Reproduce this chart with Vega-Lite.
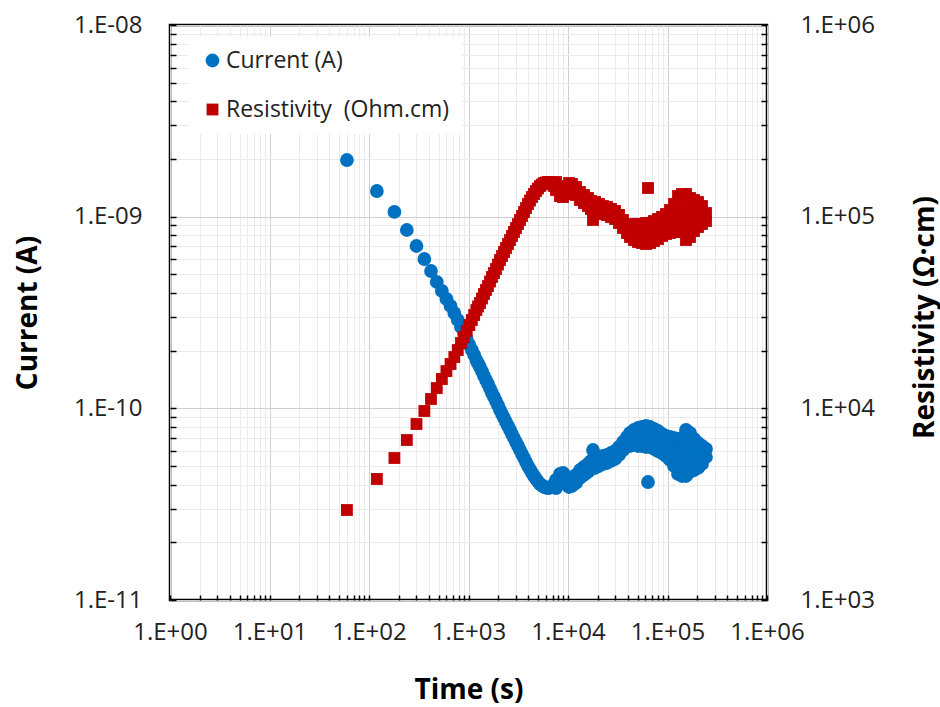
{
  "$schema": "https://vega.github.io/schema/vega-lite/v6.json",
  "width": 597,
  "height": 575,
  "autosize": {"type": "none"},
  "padding": {"left": 170, "top": 25, "right": 173, "bottom": 107},
  "background": "white",
  "config": {
    "font": "Open Sans",
    "view": {"stroke": "#000000", "strokeWidth": 2.5},
    "axis": {
      "domain": false,
      "labelOverlap": false,
      "labelBound": false,
      "labelFlush": false,
      "tickColor": "#000000",
      "tickWidth": 1.5,
      "labelFont": "Open Sans",
      "labelFontSize": 24,
      "labelColor": "#222222",
      "titleFont": "Open Sans",
      "titleFontWeight": "bold",
      "titleFontSize": 28,
      "titleColor": "#000000",
      "gridWidth": 1
    },
    "legend": {
      "orient": "none",
      "legendX": 19,
      "legendY": 12,
      "fillColor": "white",
      "padding": 12,
      "labelFont": "Open Sans",
      "labelFontSize": 23,
      "labelColor": "#222222",
      "labelOffset": 2,
      "labelLimit": 400,
      "rowPadding": 25,
      "symbolStrokeWidth": 0,
      "symbolOpacity": 1
    }
  },
  "data": {
    "values": [
      {"t": 60, "I": 1.975e-9, "R": 2948},
      {"t": 120, "I": 1.361e-9, "R": 4279},
      {"t": 180, "I": 1.058e-9, "R": 5506},
      {"t": 240, "I": 8.52e-10, "R": 6834},
      {"t": 300, "I": 7.03e-10, "R": 8284},
      {"t": 360, "I": 6.013e-10, "R": 9685},
      {"t": 420, "I": 5.206e-10, "R": 11190},
      {"t": 480, "I": 4.562e-10, "R": 12760},
      {"t": 540, "I": 4.095e-10, "R": 14220},
      {"t": 600, "I": 3.72e-10, "R": 15650},
      {"t": 660, "I": 3.42e-10, "R": 17030},
      {"t": 720, "I": 3.143e-10, "R": 18530},
      {"t": 780, "I": 2.89e-10, "R": 20150},
      {"t": 840, "I": 2.657e-10, "R": 21920},
      {"t": 900, "I": 2.472e-10, "R": 23560},
      {"t": 960, "I": 2.3e-10, "R": 25320},
      {"t": 1020, "I": 2.141e-10, "R": 27200},
      {"t": 1080, "I": 2.016e-10, "R": 28880},
      {"t": 1140, "I": 1.898e-10, "R": 30680},
      {"t": 1200, "I": 1.787e-10, "R": 32580},
      {"t": 1246, "I": 1.714e-10, "R": 33980},
      {"t": 1305, "I": 1.643e-10, "R": 35440},
      {"t": 1367, "I": 1.557e-10, "R": 37410},
      {"t": 1431, "I": 1.475e-10, "R": 39490},
      {"t": 1499, "I": 1.405e-10, "R": 41450},
      {"t": 1570, "I": 1.34e-10, "R": 43470},
      {"t": 1645, "I": 1.269e-10, "R": 45890},
      {"t": 1722, "I": 1.202e-10, "R": 48450},
      {"t": 1804, "I": 1.146e-10, "R": 50820},
      {"t": 1890, "I": 1.092e-10, "R": 53330},
      {"t": 1979, "I": 1.035e-10, "R": 56270},
      {"t": 2073, "I": 9.802e-11, "R": 59410},
      {"t": 2172, "I": 9.341e-11, "R": 62350},
      {"t": 2274, "I": 8.907e-11, "R": 65400},
      {"t": 2382, "I": 8.484e-11, "R": 68650},
      {"t": 2495, "I": 8.09e-11, "R": 72000},
      {"t": 2613, "I": 7.709e-11, "R": 75550},
      {"t": 2737, "I": 7.346e-11, "R": 79290},
      {"t": 2866, "I": 7.002e-11, "R": 83180},
      {"t": 3002, "I": 6.673e-11, "R": 87270},
      {"t": 3144, "I": 6.361e-11, "R": 91560},
      {"t": 3293, "I": 6.061e-11, "R": 96080},
      {"t": 3449, "I": 5.777e-11, "R": 100810},
      {"t": 3613, "I": 5.507e-11, "R": 105700},
      {"t": 3784, "I": 5.248e-11, "R": 110980},
      {"t": 3963, "I": 5.003e-11, "R": 116400},
      {"t": 4150, "I": 4.796e-11, "R": 121430},
      {"t": 4347, "I": 4.599e-11, "R": 126600},
      {"t": 4553, "I": 4.436e-11, "R": 131290},
      {"t": 4769, "I": 4.279e-11, "R": 136100},
      {"t": 4994, "I": 4.152e-11, "R": 140270},
      {"t": 5231, "I": 4.029e-11, "R": 144500},
      {"t": 5479, "I": 3.957e-11, "R": 147180},
      {"t": 5739, "I": 3.887e-11, "R": 149830},
      {"t": 6010, "I": 3.863e-11, "R": 150760},
      {"t": 6295, "I": 3.84e-11, "R": 151670},
      {"t": 6593, "I": 3.863e-11, "R": 150760},
      {"t": 6906, "I": 3.887e-11, "R": 149830},
      {"t": 7232, "I": 4.029e-11, "R": 144550},
      {"t": 7576, "I": 4.228e-11, "R": 137750},
      {"t": 7576, "I": 3.84e-11, "R": 151670},
      {"t": 8310, "I": 4.544e-11, "R": 128170},
      {"t": 8310, "I": 4.127e-11, "R": 141120},
      {"t": 8907, "I": 4.599e-11, "R": 126640},
      {"t": 8907, "I": 4.177e-11, "R": 139430},
      {"t": 9548, "I": 4.436e-11, "R": 131290},
      {"t": 9548, "I": 4.029e-11, "R": 144550},
      {"t": 10234, "I": 4.228e-11, "R": 137750},
      {"t": 10234, "I": 3.887e-11, "R": 149830},
      {"t": 10970, "I": 4.279e-11, "R": 136110},
      {"t": 10970, "I": 3.934e-11, "R": 148040},
      {"t": 12035, "I": 4.49e-11, "R": 129710},
      {"t": 12035, "I": 4.078e-11, "R": 142820},
      {"t": 13200, "I": 4.767e-11, "R": 122170},
      {"t": 13200, "I": 4.331e-11, "R": 134470},
      {"t": 14480, "I": 4.943e-11, "R": 117820},
      {"t": 14480, "I": 4.49e-11, "R": 129710},
      {"t": 15885, "I": 5.124e-11, "R": 113660},
      {"t": 15885, "I": 4.654e-11, "R": 125140},
      {"t": 17030, "I": 5.312e-11, "R": 109640},
      {"t": 17030, "I": 4.825e-11, "R": 120700},
      {"t": 17836, "I": 6.061e-11, "R": 96090},
      {"t": 18680, "I": 5.376e-11, "R": 108330},
      {"t": 18680, "I": 4.884e-11, "R": 119250},
      {"t": 20495, "I": 5.507e-11, "R": 105760},
      {"t": 20495, "I": 5.002e-11, "R": 116430},
      {"t": 22480, "I": 5.64e-11, "R": 103260},
      {"t": 22480, "I": 5.124e-11, "R": 113660},
      {"t": 24660, "I": 5.709e-11, "R": 102010},
      {"t": 24660, "I": 5.186e-11, "R": 112300},
      {"t": 27050, "I": 5.847e-11, "R": 99610},
      {"t": 27050, "I": 5.312e-11, "R": 109640},
      {"t": 29680, "I": 5.989e-11, "R": 97250},
      {"t": 29680, "I": 5.441e-11, "R": 107040},
      {"t": 32560, "I": 6.285e-11, "R": 92670},
      {"t": 32560, "I": 5.709e-11, "R": 102010},
      {"t": 35720, "I": 6.674e-11, "R": 87260},
      {"t": 35720, "I": 6.061e-11, "R": 96090},
      {"t": 39180, "I": 7.087e-11, "R": 82180},
      {"t": 39180, "I": 6.439e-11, "R": 90450},
      {"t": 42000, "I": 7.436e-11, "R": 78320},
      {"t": 42000, "I": 6.836e-11, "R": 85200},
      {"t": 42000, "I": 6.361e-11, "R": 91560},
      {"t": 46060, "I": 7.709e-11, "R": 75550},
      {"t": 46060, "I": 7.087e-11, "R": 82180},
      {"t": 46060, "I": 6.439e-11, "R": 90450},
      {"t": 50530, "I": 7.896e-11, "R": 73760},
      {"t": 50530, "I": 7.087e-11, "R": 82180},
      {"t": 50530, "I": 6.361e-11, "R": 91560},
      {"t": 55430, "I": 7.992e-11, "R": 72870},
      {"t": 55430, "I": 7.172e-11, "R": 81200},
      {"t": 55430, "I": 6.361e-11, "R": 91560},
      {"t": 60810, "I": 8.088e-11, "R": 72010},
      {"t": 60810, "I": 7.172e-11, "R": 81200},
      {"t": 60810, "I": 6.285e-11, "R": 92670},
      {"t": 63680, "I": 4.127e-11, "R": 141120},
      {"t": 66700, "I": 7.992e-11, "R": 72870},
      {"t": 66700, "I": 7.087e-11, "R": 82180},
      {"t": 66700, "I": 6.285e-11, "R": 92670},
      {"t": 73170, "I": 7.802e-11, "R": 74650},
      {"t": 73170, "I": 6.919e-11, "R": 84170},
      {"t": 73170, "I": 6.136e-11, "R": 94920},
      {"t": 80270, "I": 7.617e-11, "R": 76460},
      {"t": 80270, "I": 6.754e-11, "R": 86230},
      {"t": 80270, "I": 5.989e-11, "R": 97250},
      {"t": 88050, "I": 7.347e-11, "R": 79270},
      {"t": 88050, "I": 6.594e-11, "R": 88320},
      {"t": 88050, "I": 5.847e-11, "R": 99610},
      {"t": 96580, "I": 7.172e-11, "R": 81200},
      {"t": 96580, "I": 6.361e-11, "R": 91560},
      {"t": 96580, "I": 5.64e-11, "R": 103260},
      {"t": 105950, "I": 7.087e-11, "R": 82180},
      {"t": 105950, "I": 6.21e-11, "R": 93780},
      {"t": 105950, "I": 5.376e-11, "R": 108330},
      {"t": 116230, "I": 7.002e-11, "R": 83180},
      {"t": 116230, "I": 5.917e-11, "R": 98430},
      {"t": 116230, "I": 5.002e-11, "R": 116430},
      {"t": 127500, "I": 6.919e-11, "R": 84170},
      {"t": 127500, "I": 6.061e-11, "R": 96090},
      {"t": 127500, "I": 5.312e-11, "R": 109640},
      {"t": 127500, "I": 4.544e-11, "R": 128170},
      {"t": 139870, "I": 7.002e-11, "R": 83180},
      {"t": 139870, "I": 6.136e-11, "R": 94920},
      {"t": 139870, "I": 5.376e-11, "R": 108330},
      {"t": 139870, "I": 4.436e-11, "R": 131290},
      {"t": 153440, "I": 7.709e-11, "R": 75550},
      {"t": 153440, "I": 6.674e-11, "R": 87260},
      {"t": 153440, "I": 5.709e-11, "R": 102010},
      {"t": 153440, "I": 4.943e-11, "R": 117820},
      {"t": 153440, "I": 4.436e-11, "R": 131290},
      {"t": 168320, "I": 7.436e-11, "R": 78320},
      {"t": 168320, "I": 6.439e-11, "R": 90450},
      {"t": 168320, "I": 5.507e-11, "R": 105760},
      {"t": 168320, "I": 4.654e-11, "R": 125140},
      {"t": 184650, "I": 6.919e-11, "R": 84170},
      {"t": 184650, "I": 5.917e-11, "R": 98430},
      {"t": 184650, "I": 5.312e-11, "R": 109640},
      {"t": 184650, "I": 4.767e-11, "R": 122170},
      {"t": 202560, "I": 6.594e-11, "R": 88320},
      {"t": 202560, "I": 5.709e-11, "R": 102010},
      {"t": 202560, "I": 4.884e-11, "R": 119250},
      {"t": 222220, "I": 6.361e-11, "R": 91560},
      {"t": 222220, "I": 5.709e-11, "R": 102010},
      {"t": 222220, "I": 5.124e-11, "R": 113660},
      {"t": 243760, "I": 6.136e-11, "R": 94920},
      {"t": 243760, "I": 5.573e-11, "R": 104500}
    ]
  },
  "encoding": {
    "x": {
      "field": "t",
      "type": "quantitative",
      "scale": {"type": "log", "domain": [1, 1000000], "nice": false},
      "axis": {
        "title": "Time (s)",
        "values": [1,2,3,4,5,6,7,8,9,10,20,30,40,50,60,70,80,90,100,200,300,400,500,600,700,800,900,1000,2000,3000,4000,5000,6000,7000,8000,9000,10000,20000,30000,40000,50000,60000,70000,80000,90000,100000,200000,300000,400000,500000,600000,700000,800000,900000,1000000],
        "labelExpr": "abs(log(datum.value)/LN10 - round(log(datum.value)/LN10)) < 0.001 ? '1.E' + (round(log(datum.value)/LN10) < 0 ? '-' : '+') + (abs(round(log(datum.value)/LN10)) < 10 ? '0' : '') + abs(round(log(datum.value)/LN10)) : ''",
        "tickSize": -5,
        "labelPadding": 25,
        "grid": true,
        "gridColor": {"condition": {"test": "abs(log(datum.value)/LN10 - round(log(datum.value)/LN10)) < 0.001", "value": "#d0d0d0"}, "value": "#ebebeb"},
        "titleX": 298.5,
        "titleY": 90,
        "titleAlign": "center",
        "titleBaseline": "middle"
      }
    }
  },
  "layer": [
    {
      "mark": {"type": "point", "filled": true, "opacity": 1, "strokeWidth": 0},
      "encoding": {
        "y": {
          "field": "I",
          "type": "quantitative",
          "scale": {"type": "log", "domain": [1e-11, 1e-8], "nice": false},
          "axis": {
            "orient": "left",
            "title": "Current (A)",
            "values": [1e-11,2e-11,3e-11,4e-11,5e-11,6e-11,7e-11,8e-11,9e-11,1e-10,2e-10,3e-10,4e-10,5e-10,6e-10,7e-10,8e-10,9e-10,1e-9,2e-9,3e-9,4e-9,5e-9,6e-9,7e-9,8e-9,9e-9,1e-8],
            "labelExpr": "abs(log(datum.value)/LN10 - round(log(datum.value)/LN10)) < 0.001 ? '1.E' + (round(log(datum.value)/LN10) < 0 ? '-' : '+') + (abs(round(log(datum.value)/LN10)) < 10 ? '0' : '') + abs(round(log(datum.value)/LN10)) : ''",
            "tickSize": -6,
            "labelPadding": 34,
            "grid": true,
            "gridColor": {"condition": {"test": "abs(log(datum.value)/LN10 - round(log(datum.value)/LN10)) < 0.001", "value": "#d0d0d0"}, "value": "#ebebeb"},
            "titleAngle": -90,
            "titleX": -142,
            "titleY": 287.5,
            "titleAlign": "center",
            "titleBaseline": "middle"
          }
        },
        "color": {"datum": "Current (A)", "type": "nominal", "scale": {"domain": ["Current (A)", "Resistivity \u00a0(Ohm.cm)"], "range": ["#0070C0", "#C00000"]}, "legend": {"title": null}},
        "shape": {"datum": "Current (A)", "type": "nominal", "scale": {"domain": ["Current (A)", "Resistivity \u00a0(Ohm.cm)"], "range": ["circle", "square"]}, "legend": {"title": null}},
        "size": {"datum": "Current (A)", "type": "nominal", "scale": {"domain": ["Current (A)", "Resistivity \u00a0(Ohm.cm)"], "range": [190, 140]}, "legend": {"title": null}}
      }
    },
    {
      "mark": {"type": "point", "filled": true, "opacity": 1, "strokeWidth": 0},
      "encoding": {
        "y": {
          "field": "R",
          "type": "quantitative",
          "scale": {"type": "log", "domain": [1000, 1000000], "nice": false},
          "axis": {
            "orient": "right",
            "title": "Resistivity (Ω·cm)",
            "values": [1000,2000,3000,4000,5000,6000,7000,8000,9000,10000,20000,30000,40000,50000,60000,70000,80000,90000,100000,200000,300000,400000,500000,600000,700000,800000,900000,1000000],
            "labelExpr": "abs(log(datum.value)/LN10 - round(log(datum.value)/LN10)) < 0.001 ? '1.E' + (round(log(datum.value)/LN10) < 0 ? '-' : '+') + (abs(round(log(datum.value)/LN10)) < 10 ? '0' : '') + abs(round(log(datum.value)/LN10)) : ''",
            "tickSize": -6,
            "labelPadding": 39,
            "grid": false,
            "titleAngle": -90,
            "titleX": 158,
            "titleY": 292,
            "titleAlign": "center",
            "titleBaseline": "middle"
          }
        },
        "color": {"datum": "Resistivity \u00a0(Ohm.cm)", "type": "nominal", "scale": {"domain": ["Current (A)", "Resistivity \u00a0(Ohm.cm)"], "range": ["#0070C0", "#C00000"]}, "legend": {"title": null}},
        "shape": {"datum": "Resistivity \u00a0(Ohm.cm)", "type": "nominal", "scale": {"domain": ["Current (A)", "Resistivity \u00a0(Ohm.cm)"], "range": ["circle", "square"]}, "legend": {"title": null}},
        "size": {"datum": "Resistivity \u00a0(Ohm.cm)", "type": "nominal", "scale": {"domain": ["Current (A)", "Resistivity \u00a0(Ohm.cm)"], "range": [190, 140]}, "legend": {"title": null}}
      }
    }
  ],
  "resolve": {"scale": {"y": "independent"}, "axis": {"y": "independent"}}
}
